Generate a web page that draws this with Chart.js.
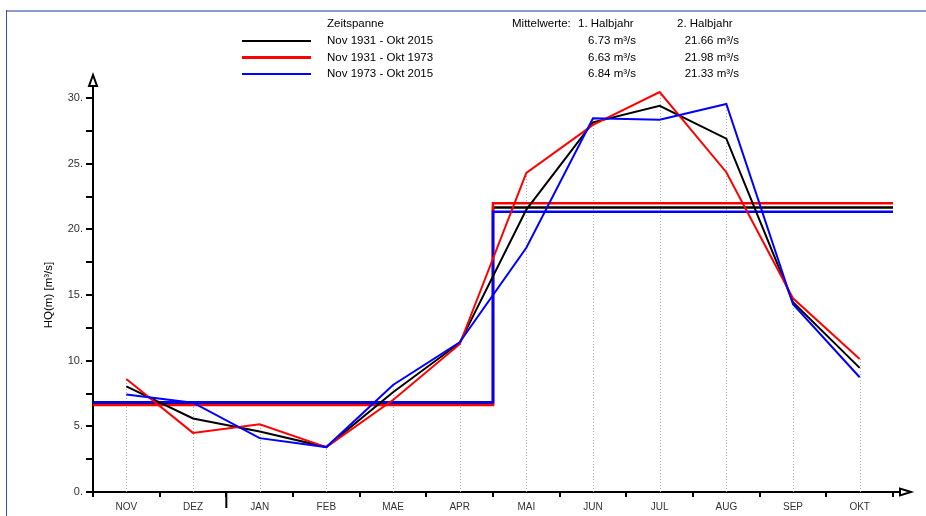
<!DOCTYPE html>
<html>
<head>
<meta charset="utf-8">
<script src="https://cdn.jsdelivr.net/npm/chart.js@4.4.1/dist/chart.umd.min.js"></script>
<style>
body { margin: 0; background: #fff; font-family: "Liberation Sans", Arial, sans-serif; }
#wrap { position: relative; width: 926px; height: 516px; overflow: hidden; }
#frameTop { position: absolute; left: 6px; top: 10px; width: 920px; height: 2px; background: #8d9cc7; }
#frameLeft { position: absolute; left: 6px; top: 10px; width: 1px; height: 506px; background: #3250ac; }
.lg { position: absolute; font-size: 11.5px; line-height: 14px; color: #000; white-space: nowrap; }
.sw { position: absolute; left: 242px; width: 69px; height: 2.5px; }
canvas { position: absolute; left: 0; top: 0; }
</style>
</head>
<body>
<div id="wrap">
  <canvas id="hqChart" width="926" height="516"></canvas>
  <div id="frameTop"></div>
  <div id="frameLeft"></div>
  <div id="legend"></div>
</div>
<script>
const months = ['NOV', 'DEZ', 'JAN', 'FEB', 'MAE', 'APR', 'MAI', 'JUN', 'JUL', 'AUG', 'SEP', 'OKT'];
const seriesNames = ['Nov 1931 - Okt 2015', 'Nov 1931 - Okt 1973', 'Nov 1973 - Okt 2015'];
const seriesColors = ['#000000', '#ff0000', '#0000ff'];

// HQ(m) per month
const hqAll   = [8.05, 5.6, 4.6, 3.42, 7.6, 11.35, 21.5, 28.15, 29.4, 26.9, 14.45, 9.45];
const hqEarly = [8.6, 4.5, 5.15, 3.42, 7.0, 11.25, 24.3, 27.95, 30.45, 24.35, 14.75, 10.12];
const hqLate  = [7.42, 6.8, 4.1, 3.42, 8.15, 11.4, 18.6, 28.45, 28.35, 29.55, 14.3, 8.74];

// Mittelwerte 1. / 2. Halbjahr
const mean1 = [6.73, 6.63, 6.84];
const mean2 = [21.66, 21.98, 21.33];

const series = [hqAll, hqEarly, hqLate];

// legend table (html text)
const legendEl = document.getElementById('legend');
function addText(txt, left, top, rightEdge) {
  const d = document.createElement('div');
  d.className = 'lg';
  d.textContent = txt;
  d.style.top = top + 'px';
  if (rightEdge) {
    d.style.left = (left - 120) + 'px';
    d.style.width = '120px';
    d.style.textAlign = 'right';
  } else {
    d.style.left = left + 'px';
  }
  legendEl.appendChild(d);
}
addText('Zeitspanne', 327, 16);
addText('Mittelwerte:', 512, 16);
addText('1. Halbjahr', 578, 16);
addText('2. Halbjahr', 677, 16);
const rowTops = [33, 49.5, 66];
seriesNames.forEach((name, i) => {
  const sw = document.createElement('div');
  sw.className = 'sw';
  sw.style.top = (rowTops[i] + 6.5) + 'px';
  sw.style.background = seriesColors[i];
  legendEl.appendChild(sw);
  addText(name, 327, rowTops[i]);
  addText(mean1[i].toFixed(2) + ' m³/s', 636, rowTops[i], true);
  addText(mean2[i].toFixed(2) + ' m³/s', 739, rowTops[i], true);
});

// datasets: first index is drawn on top, so blue goes first
const datasets = [];
[2, 1, 0].forEach(i => {
  datasets.push({
    data: series[i].map((v, m) => ({ x: m + 0.5, y: v })),
    borderColor: seriesColors[i],
    borderWidth: 2,
    pointRadius: 0,
    tension: 0,
    clip: false
  });
});
[2, 1, 0].forEach(i => {
  datasets.push({
    data: [{ x: 0, y: mean1[i] }, { x: 6, y: mean1[i] }, { x: 6, y: mean2[i] }, { x: 12, y: mean2[i] }],
    borderColor: seriesColors[i],
    borderWidth: 2.5,
    pointRadius: 0,
    tension: 0,
    clip: false
  });
});

// drop lines, arrows, long tick at the year change
const hqAxes = {
  id: 'hqAxes',
  beforeDatasetsDraw(chart) {
    const { ctx, scales: { x, y } } = chart;
    ctx.save();
    ctx.strokeStyle = '#a8a8a8';
    ctx.lineWidth = 1;
    ctx.setLineDash([1, 2]);
    months.forEach((m, i) => {
      const top = Math.max(hqAll[i], hqEarly[i], hqLate[i]);
      const px = Math.round(x.getPixelForValue(i + 0.5)) + 0.5;
      ctx.beginPath();
      ctx.moveTo(px, y.getPixelForValue(0));
      ctx.lineTo(px, y.getPixelForValue(top));
      ctx.stroke();
    });
    ctx.restore();
  },
  afterDraw(chart) {
    const { ctx, scales: { x, y } } = chart;
    const x0 = x.getPixelForValue(0), y0 = y.getPixelForValue(0);
    const yTop = y.getPixelForValue(30), xEnd = x.getPixelForValue(12);
    ctx.save();
    ctx.strokeStyle = '#000';
    ctx.fillStyle = '#fff';
    ctx.lineWidth = 2;
    ctx.beginPath(); ctx.moveTo(x0, yTop); ctx.lineTo(x0, yTop - 12); ctx.stroke();
    ctx.beginPath();
    ctx.moveTo(x0, yTop - 23); ctx.lineTo(x0 - 4, yTop - 12); ctx.lineTo(x0 + 4, yTop - 12);
    ctx.closePath(); ctx.fill(); ctx.stroke();
    ctx.beginPath(); ctx.moveTo(xEnd, y0); ctx.lineTo(xEnd + 7, y0); ctx.stroke();
    ctx.beginPath();
    ctx.moveTo(xEnd + 18, y0); ctx.lineTo(xEnd + 7, y0 - 3.5); ctx.lineTo(xEnd + 7, y0 + 3.5);
    ctx.closePath(); ctx.fill(); ctx.stroke();
    const xj = x.getPixelForValue(2);
    ctx.beginPath(); ctx.moveTo(xj, y0); ctx.lineTo(xj, y0 + 16); ctx.stroke();
    ctx.restore();
  }
};

const fontFam = '"Liberation Sans", Arial, sans-serif';

new Chart(document.getElementById('hqChart'), {
  type: 'line',
  data: { datasets: datasets },
  plugins: [hqAxes],
  options: {
    responsive: false,
    animation: false,
    layout: { padding: { left: 0, top: 98, right: 33, bottom: 0 } },
    plugins: { legend: { display: false }, tooltip: { enabled: false } },
    scales: {
      x: {
        type: 'linear',
        min: 0,
        max: 12,
        afterBuildTicks: s => {
          s.ticks = [];
          for (let v = 0; v <= 24; v++) s.ticks.push({ value: v / 2 });
        },
        ticks: {
          autoSkip: false,
          maxRotation: 0,
          padding: 4,
          color: '#333',
          font: { size: 10, family: fontFam },
          callback: v => (v % 1 === 0.5) ? months[Math.floor(v)] : ''
        },
        grid: {
          drawOnChartArea: false,
          tickLength: 5,
          lineWidth: 2,
          tickColor: c => (c.tick && c.tick.value % 1 === 0) ? '#000' : 'rgba(0,0,0,0)'
        },
        border: { color: '#000', width: 2 },
        afterFit: s => { s.height = 24; }
      },
      y: {
        min: 0,
        max: 30,
        ticks: {
          stepSize: 2.5,
          padding: 3,
          color: '#333',
          font: { size: 11, family: fontFam },
          callback: v => (v % 5 === 0) ? v + '.' : ''
        },
        grid: { drawOnChartArea: false, tickLength: 7, lineWidth: 2, tickColor: '#000' },
        border: { color: '#000', width: 2 },
        title: {
          display: true,
          text: 'HQ(m) [m³/s]',
          color: '#000',
          font: { size: 11.5, family: fontFam },
          padding: { top: 42, bottom: 0 }
        },
        afterFit: s => { s.width = 93; }
      }
    }
  }
});
</script>
</body>
</html>
